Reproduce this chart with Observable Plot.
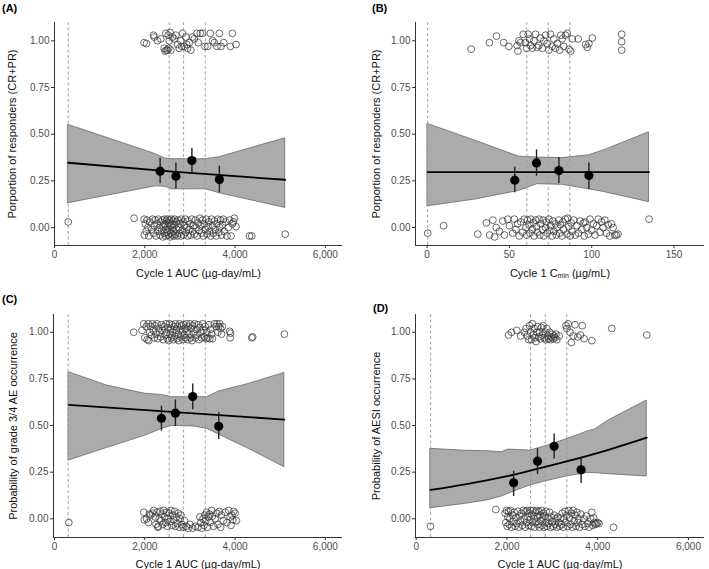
<!DOCTYPE html>
<html>
<head>
<meta charset="utf-8">
<script src="https://cdn.jsdelivr.net/npm/d3@7"></script>
<script src="https://cdn.jsdelivr.net/npm/@observablehq/plot@0.6"></script>
<style>
  body { margin: 0; background: #fff; }
  #chart { position: relative; width: 709px; height: 569px; background: #fff; font-family: "Liberation Sans", Arial, sans-serif; }
  .panel { position: absolute; }
  .tag { position: absolute; font-weight: bold; font-size: 11px; color: #000; font-family: "Liberation Sans", Arial, sans-serif; }
</style>
</head>
<body>
<div id="chart"></div>
<script>
// ---------------- data ----------------
const yTicks = [0, 0.25, 0.5, 0.75, 1];
const aucTicks = [0, 2000, 4000, 6000];
const cminTicks = [0, 50, 100, 150];

// quartile cut lines
const cutsA = [304, 2540, 2860, 3340];
const cutsB = [0.4, 60.6, 73.6, 86.7];
const cutsC = [304, 2540, 2860, 3340];
const cutsD = [318, 2520, 2843, 3320];

// confidence ribbons
const ribA_x = [304, 2244, 2450, 2615, 3356, 3652, 5111];
const ribA_lo = [0.13, 0.221, 0.218, 0.205, 0.205, 0.184, 0.105];
const ribA_hi = [0.55, 0.393, 0.37, 0.366, 0.366, 0.377, 0.478];
const fitA_x = [304, 2615, 5111];
const fitA_y = [0.347, 0.299, 0.256];

const ribB_x = [0.4, 29.4, 55.8, 66.9, 82.1, 98.3, 107.5, 134.8];
const ribB_lo = [0.114, 0.15, 0.196, 0.232, 0.229, 0.205, 0.19, 0.136];
const ribB_hi = [0.555, 0.465, 0.38, 0.375, 0.372, 0.387, 0.414, 0.51];
const fitB_x = [0.4, 134.8];
const fitB_y = [0.297, 0.297];

const ribC_x = [317, 1166, 2015, 2384, 2605, 3085, 3380, 3638, 4303, 5092];
const ribC_lo = [0.3125, 0.38, 0.446, 0.482, 0.498, 0.495, 0.482, 0.452, 0.375, 0.277];
const ribC_hi = [0.786, 0.714, 0.67, 0.664, 0.652, 0.652, 0.652, 0.682, 0.723, 0.782];
const fitC_x = [317, 5092];
const fitC_y = [0.611, 0.532];

const ribD_x = [316, 1079, 1593, 1887, 2034, 2511, 2841, 3355, 3796, 3943, 4236, 5081];
const ribD_lo = [0.057, 0.08, 0.10, 0.12, 0.135, 0.179, 0.2, 0.229, 0.246, 0.245, 0.239, 0.227];
const ribD_hi = [0.375, 0.365, 0.362, 0.357, 0.371, 0.366, 0.388, 0.43, 0.47, 0.479, 0.527, 0.634];
const fitD_x = [316, 1079, 2034, 2511, 3355, 4236, 5081];
const fitD_y = [0.155, 0.185, 0.23, 0.258, 0.31, 0.37, 0.435];

// binned observed proportions with error bars
const binA_x = [2340, 2690, 3044, 3652];
const binA_y = [0.302, 0.275, 0.359, 0.257];
const binA_lo = [0.234, 0.207, 0.286, 0.186];
const binA_hi = [0.371, 0.346, 0.425, 0.329];

const binB_x = [53.3, 66.5, 80.1, 98.3];
const binB_y = [0.254, 0.346, 0.305, 0.279];
const binB_lo = [0.186, 0.275, 0.236, 0.204];
const binB_hi = [0.323, 0.416, 0.375, 0.346];

const binC_x = [2369, 2679, 3063, 3638];
const binC_y = [0.539, 0.566, 0.655, 0.496];
const binC_lo = [0.47, 0.495, 0.584, 0.425];
const binC_hi = [0.604, 0.637, 0.723, 0.568];

const binD_x = [2147, 2673, 3040, 3634];
const binD_y = [0.193, 0.309, 0.389, 0.2625];
const binD_lo = [0.12, 0.2375, 0.32, 0.19];
const binD_hi = [0.255, 0.375, 0.455, 0.33];

// individual (jittered) outcomes [exposure, outcome]
const ptsA = [
[1985,0.99],[2037,0.985],[2193,1.03],[2207,1.02],[2281,1.0],[2356,1.01],[2430,0.96],[2450,0.945],[2467,1.04],[2480,0.95],[2504,0.95],[2519,1.03],[2530,0.96],[2541,1.0],[2560,1.045],[2578,0.95],[2615,1.02],[2652,1.01],[2689,1.03],[2726,0.98],[2763,0.96],[2800,1.0],[2820,0.97],[2837,1.04],[2874,0.97],[2911,1.02],[2930,0.98],[2948,0.96],[2985,0.99],[3022,0.95],[3059,1.02],[3096,1.01],[3156,1.04],[3185,0.99],[3230,1.04],[3281,1.04],[3333,0.97],[3393,0.97],[3452,1.04],[3504,1.0],[3541,0.99],[3600,0.97],[3652,1.04],[3689,0.97],[3748,0.99],[3896,0.97],[3941,1.04],[4022,0.98],
[304,0.03],[1763,0.05],[1985,0.045],[1990,-0.04],[2010,0.02],[2030,-0.02],[2050,0.04],[2070,0.0],[2090,-0.045],[2110,0.03],[2150,-0.01],[2170,0.045],[2190,-0.03],[2210,0.01],[2230,0.04],[2250,-0.045],[2270,0.02],[2290,-0.02],[2300,0.045],[2320,0.0],[2340,-0.04],[2350,0.03],[2370,-0.015],[2390,0.04],[2400,-0.05],[2410,0.01],[2430,-0.03],[2440,0.045],[2450,0.02],[2460,-0.045],[2470,-0.01],[2480,0.035],[2490,-0.025],[2500,0.045],[2510,0.005],[2520,-0.04],[2530,0.025],[2540,-0.015],[2550,0.04],[2560,-0.05],[2570,0.01],[2580,-0.03],[2590,0.045],[2600,0.02],[2610,-0.04],[2620,0.0],[2630,0.035],[2640,-0.02],[2650,-0.045],[2660,0.045],[2670,0.015],[2680,-0.035],[2700,0.03],[2710,-0.01],[2720,-0.045],[2740,0.04],[2750,0.0],[2760,-0.03],[2780,0.02],[2800,-0.045],[2810,0.045],[2830,-0.015],[2850,0.03],[2860,-0.04],[2880,0.01],[2900,0.045],[2910,-0.025],[2930,0.0],[2950,-0.045],[2960,0.035],[2980,-0.01],[3000,0.02],[3020,-0.04],[3040,0.045],[3060,-0.02],[3080,0.01],[3100,-0.035],[3120,0.04],[3140,0.0],[3160,-0.045],[3180,0.025],[3200,-0.015],[3220,0.05],[3240,0.01],[3260,-0.03],[3280,0.04],[3300,-0.045],[3320,0.02],[3340,-0.01],[3360,0.045],[3380,-0.035],[3400,0.005],[3420,0.03],[3440,-0.02],[3460,-0.045],[3480,0.045],[3500,0.01],[3520,-0.03],[3540,0.035],[3560,-0.01],[3580,-0.045],[3600,0.02],[3620,0.045],[3640,-0.025],[3660,0.0],[3680,0.04],[3700,-0.04],[3720,0.015],[3740,0.045],[3760,-0.02],[3790,0.03],[3820,-0.045],[3850,0.0],[3880,0.04],[3911,-0.045],[3940,0.02],[3963,0.03],[3985,0.05],[4022,0.005],[4319,-0.045],[4370,-0.045],[5111,-0.035]
];

const ptsB = [
[26.8,0.955],[37.9,0.99],[42.2,1.025],[46.6,0.99],[49.7,0.97],[54.7,0.975],[55.2,0.945],[55.8,1.0],[56.8,0.99],[58.4,1.035],[59.8,0.99],[60.5,0.96],[61.4,1.035],[62.2,1.01],[62.9,0.975],[63.9,0.96],[64.9,1.0],[65.9,1.035],[66.9,0.965],[67.9,0.975],[68.9,1.015],[70,0.96],[71,1.0],[72,1.03],[73,0.985],[74,0.95],[75,1.035],[76,0.97],[77,1.01],[78,0.96],[79.1,0.985],[80.5,0.95],[81.3,1.03],[82.1,1.01],[83,0.97],[84.1,1.03],[85.2,1.04],[86.2,0.955],[87.2,0.945],[88.2,1.01],[91.8,1.01],[96.3,0.98],[97.3,0.965],[98.3,0.985],[100.4,1.015],[118.2,1.035],[118.2,0.995],[118.2,0.95],
[0.4,-0.03],[10.1,0.01],[30.8,-0.035],[36,0.025],[38,-0.04],[40,0.04],[41,-0.05],[42,0.0],[44,-0.02],[46,0.035],[47,-0.04],[49,0.045],[50,0.01],[52,-0.03],[53,0.045],[54,-0.01],[55,0.02],[56,-0.045],[57,0.03],[58,-0.025],[59,0.045],[60,0.0],[60.5,-0.04],[61,0.04],[62,0.015],[62.5,-0.03],[63,0.045],[64,-0.01],[64.5,0.025],[65,-0.045],[66,0.04],[66.5,0.005],[67,-0.025],[68,0.045],[68.5,-0.04],[69,0.02],[70,-0.01],[70.5,0.04],[71,-0.045],[72,0.0],[72.5,0.03],[73,-0.03],[74,0.045],[74.5,-0.015],[75,0.01],[76,-0.045],[76.5,0.035],[77,-0.02],[78,0.02],[78.5,-0.04],[79,0.0],[80,0.04],[80.5,-0.03],[81,0.015],[82,-0.045],[82.5,0.03],[83,-0.01],[84,0.045],[85,-0.035],[85.5,0.05],[86,0.005],[87,-0.045],[87.5,0.025],[88,-0.02],[89,0.04],[90,-0.04],[91,0.01],[92,-0.03],[93,0.035],[94,-0.01],[95,0.025],[95.5,-0.045],[96,0.03],[97,0.0],[98,-0.035],[99,0.045],[100,-0.015],[101,0.02],[102,-0.04],[103,0.01],[104,0.045],[105,-0.025],[106,0.03],[107,0.0],[108,0.04],[109,-0.03],[110,0.015],[111,-0.045],[112,0.02],[113,0.0],[114,-0.04],[115,-0.04],[116,-0.035],[134.8,0.045]
];

const ptsC = [
[1756,1.0],[1940,1.01],[1978,1.045],[2000,0.97],[2030,1.03],[2052,0.96],[2075,1.045],[2089,0.955],[2110,1.0],[2130,1.03],[2150,0.985],[2170,1.045],[2190,1.01],[2210,0.97],[2230,1.035],[2250,0.99],[2270,1.045],[2290,0.965],[2310,1.02],[2330,1.0],[2350,0.975],[2370,1.04],[2390,1.01],[2410,0.96],[2430,1.03],[2450,0.985],[2470,1.045],[2490,1.0],[2500,0.965],[2515,1.025],[2530,0.955],[2545,1.045],[2560,0.99],[2575,1.015],[2590,0.97],[2605,1.04],[2620,1.0],[2635,0.96],[2650,1.03],[2665,0.98],[2680,1.045],[2695,1.01],[2710,0.965],[2725,1.03],[2740,0.99],[2755,0.955],[2770,1.045],[2785,1.015],[2800,0.975],[2815,1.035],[2830,1.0],[2845,0.96],[2860,1.04],[2875,0.985],[2890,1.02],[2905,0.97],[2920,1.045],[2935,1.005],[2950,0.96],[2965,1.03],[2980,0.99],[3000,1.045],[3015,0.97],[3030,1.02],[3045,0.955],[3060,1.035],[3080,0.995],[3100,1.045],[3120,0.97],[3140,1.015],[3160,0.985],[3180,1.04],[3200,0.96],[3220,1.025],[3240,1.0],[3260,0.97],[3280,1.045],[3300,1.01],[3320,0.975],[3340,1.03],[3360,0.965],[3380,1.0],[3400,0.97],[3420,1.04],[3440,0.965],[3460,1.015],[3480,0.99],[3500,0.965],[3540,1.045],[3580,1.03],[3600,1.045],[3620,1.0],[3640,1.03],[3660,1.045],[3680,1.02],[3700,0.99],[3720,1.03],[3880,1.005],[3890,0.97],[3900,0.995],[4370,0.97],[4390,0.975],[5092,0.99],
[317,-0.02],[1978,0.035],[1990,-0.005],[2040,0.0],[2080,-0.02],[2100,0.025],[2130,0.02],[2170,0.03],[2200,0.045],[2230,0.01],[2250,-0.03],[2270,0.035],[2290,-0.045],[2300,-0.04],[2320,0.0],[2340,0.04],[2360,-0.01],[2380,0.025],[2400,-0.03],[2420,0.045],[2440,0.01],[2460,-0.02],[2480,0.035],[2500,-0.04],[2520,0.0],[2540,0.03],[2560,-0.015],[2580,0.045],[2600,-0.035],[2620,0.02],[2640,-0.005],[2660,0.04],[2680,-0.04],[2700,0.01],[2720,-0.025],[2740,0.03],[2760,-0.045],[2780,0.0],[2800,0.02],[2820,-0.03],[2850,-0.045],[2880,-0.01],[2920,-0.04],[2960,-0.05],[3000,-0.03],[3060,-0.05],[3120,-0.04],[3180,-0.045],[3220,0.01],[3240,-0.02],[3260,-0.05],[3290,0.0],[3310,-0.035],[3330,0.02],[3350,-0.01],[3370,0.035],[3390,-0.045],[3410,0.01],[3430,0.025],[3450,-0.02],[3480,0.045],[3500,0.015],[3520,-0.04],[3560,0.0],[3590,0.03],[3620,-0.03],[3650,0.04],[3680,-0.045],[3700,0.02],[3740,-0.01],[3780,0.035],[3820,-0.02],[3860,0.045],[3890,0.01],[3910,-0.035],[3930,0.02],[3950,-0.005],[3970,0.04],[4000,0.03],[4030,-0.01]
];

const ptsD = [
[2034,0.985],[2100,1.0],[2217,1.01],[2300,0.98],[2380,1.0],[2420,1.02],[2450,0.98],[2480,0.96],[2500,1.035],[2520,1.0],[2540,0.96],[2560,1.045],[2580,0.985],[2600,1.02],[2620,0.97],[2640,0.95],[2660,1.0],[2680,1.03],[2700,0.975],[2720,1.0],[2740,0.965],[2760,1.025],[2780,0.985],[2800,1.035],[2820,0.97],[2840,1.0],[2860,0.96],[2880,1.02],[2900,0.98],[2920,0.965],[2940,1.0],[2960,0.96],[2980,0.975],[3000,0.99],[3020,0.965],[3040,0.98],[3060,0.97],[3080,0.99],[3100,0.96],[3150,0.98],[3300,1.035],[3320,1.02],[3350,1.045],[3390,1.0],[3420,0.945],[3460,0.98],[3500,1.04],[3560,0.975],[3620,0.985],[3660,1.035],[3700,0.965],[3870,0.955],[4310,1.02],[5081,0.985],
[316,-0.04],[1755,0.05],[1960,0.03],[1975,-0.02],[1990,0.045],[2005,-0.04],[2020,0.01],[2035,0.04],[2050,-0.03],[2065,0.0],[2080,0.045],[2100,-0.045],[2120,0.02],[2140,-0.015],[2160,0.035],[2180,-0.04],[2200,0.005],[2220,-0.025],[2240,0.04],[2260,-0.045],[2280,0.015],[2300,-0.01],[2320,0.03],[2340,-0.035],[2360,0.045],[2380,0.0],[2400,-0.045],[2415,0.04],[2430,-0.02],[2445,0.045],[2460,0.01],[2475,-0.035],[2490,0.03],[2505,-0.005],[2520,0.045],[2535,-0.04],[2550,0.02],[2565,-0.02],[2580,0.045],[2595,0.0],[2610,-0.045],[2625,0.035],[2640,-0.015],[2655,0.045],[2670,0.01],[2685,-0.03],[2700,0.04],[2715,-0.045],[2730,0.02],[2745,-0.01],[2760,0.045],[2775,-0.035],[2790,0.005],[2805,0.03],[2820,-0.045],[2835,0.015],[2850,-0.02],[2865,0.04],[2880,-0.04],[2900,0.0],[2920,-0.025],[2940,0.035],[2960,-0.045],[2980,0.01],[3000,-0.015],[3020,-0.04],[3040,0.02],[3060,-0.03],[3080,0.0],[3100,-0.045],[3120,0.01],[3140,-0.02],[3160,-0.04],[3180,0.005],[3200,-0.03],[3220,0.03],[3240,-0.045],[3260,0.0],[3280,0.04],[3300,-0.02],[3320,0.02],[3340,-0.04],[3360,0.045],[3380,0.005],[3400,-0.03],[3420,0.03],[3440,-0.045],[3460,0.045],[3480,-0.01],[3500,0.02],[3520,-0.04],[3540,0.035],[3560,-0.02],[3580,0.0],[3600,-0.045],[3630,0.025],[3660,-0.03],[3690,0.0],[3720,-0.04],[3750,0.015],[3780,-0.025],[3810,-0.045],[3840,0.0],[3870,0.035],[3890,-0.035],[3910,0.005],[3930,-0.02],[3950,-0.03],[3970,-0.025],[4000,-0.02],[4030,-0.025],[4347,-0.045]
];

const labels = {
  xA: "Cycle 1 AUC (µg-day/mL)",
  xB: "Cycle 1 Cmin (µg/mL)",
  xC: "Cycle 1 AUC (µg-day/mL)",
  xD: "Cycle 1 AUC (µg·day/mL)",
  yA: "Porportion of responders (CR+PR)",
  yB: "Porportion of responders (CR+PR)",
  yC: "Probability of grade 3/4 AE occurrence",
  yD: "Probability of AESI occurrence"
};

// ---------------- drawing ----------------
const zip3 = (x, a, b) => x.map((v, i) => ({x: v, lo: a[i], hi: b[i]}));
const zip2 = (x, y) => x.map((v, i) => ({x: v, y: y[i]}));
const zipBins = (x, y, lo, hi) => x.map((v, i) => ({x: v, y: y[i], lo: lo[i], hi: hi[i]}));

function panel(cfg) {
  const plot = Plot.plot({
    width: cfg.width, height: cfg.height,
    marginLeft: cfg.ml, marginRight: cfg.mr, marginTop: cfg.mt, marginBottom: cfg.mb,
    style: {fontFamily: '"Liberation Sans", Arial, sans-serif', fontSize: "10px", color: "#333", background: "white"},
    x: {domain: cfg.xDomain},
    y: {domain: cfg.yDomain},
    marks: [
      Plot.areaY(zip3(cfg.rib[0], cfg.rib[1], cfg.rib[2]), {x: "x", y1: "lo", y2: "hi", fill: "#ababab", stroke: "#5a5a5a", strokeWidth: 0.7}),
      Plot.ruleX(cfg.cuts, {stroke: "#999", strokeWidth: 0.9, strokeDasharray: "3,2.5"}),
      Plot.dot(cfg.pts, {x: d => d[0], y: d => d[1], r: 3.4, stroke: "#3a3a3a", strokeWidth: 0.75, fill: "none"}),
      Plot.line(zip2(cfg.fit[0], cfg.fit[1]), {x: "x", y: "y", stroke: "#000", strokeWidth: 1.8, curve: "monotone-x"}),
      Plot.ruleX(zipBins(...cfg.bins), {x: "x", y1: "lo", y2: "hi", stroke: "#222", strokeWidth: 1.4}),
      Plot.dot(zipBins(...cfg.bins), {x: "x", y: "y", r: 4.6, fill: "#000", stroke: "none"}),
      Plot.ruleY([cfg.yDomain[0]], {stroke: "#333", strokeWidth: 1}),
      Plot.ruleX([cfg.xDomain[0]], {stroke: "#333", strokeWidth: 1}),
      Plot.axisX({ticks: cfg.xTicks, tickFormat: d3.format(","), tickSize: 3, tickPadding: 2,
        label: cfg.xLabel, labelAnchor: "center", labelArrow: "none", labelOffset: cfg.xlo}),
      Plot.axisY({ticks: yTicks, tickFormat: d3.format(".2f"), tickSize: 3, tickPadding: 2,
        label: cfg.yLabel, labelAnchor: "center", labelArrow: "none", labelOffset: cfg.ylo})
    ]
  });
  plot.classList.add("panel");
  plot.style.left = cfg.left + "px";
  plot.style.top = cfg.top + "px";
  // styling: tick labels gray, axis titles black, larger
  plot.querySelectorAll('g[aria-label="x-axis tick label"] text, g[aria-label="y-axis tick label"] text')
    .forEach(t => t.setAttribute("fill", "#4d4d4d"));
  plot.querySelectorAll('g[aria-label="x-axis label"], g[aria-label="y-axis label"]').forEach(g => {
    g.setAttribute("fill", "#111");
    g.setAttribute("font-size", "11");
  });
  if (cfg.sub) {
    const t = plot.querySelector('g[aria-label="x-axis label"] text');
    if (t) {
      t.textContent = "";
      const ns = "http://www.w3.org/2000/svg";
      const a = document.createElementNS(ns, "tspan"); a.textContent = "Cycle 1 C";
      const b = document.createElementNS(ns, "tspan"); b.textContent = "min"; b.setAttribute("font-size", "7"); b.setAttribute("dy", "1.5");
      const c = document.createElementNS(ns, "tspan"); c.textContent = " (µg/mL)"; c.setAttribute("dy", "-1.5");
      t.append(a, b, c);
    }
  }
  return plot;
}

const chart = document.getElementById("chart");
const yTop = [-0.096, 1.098];
const yBot = [-0.100, 1.095];

chart.append(panel({left: 0, top: 0, width: 354, height: 285, ml: 54, mr: 12, mt: 22, mb: 40,
  xDomain: [0, 6380], yDomain: yTop, xTicks: aucTicks, xLabel: labels.xA, yLabel: labels.yA, xlo: 31, ylo: 46,
  rib: [ribA_x, ribA_lo, ribA_hi], fit: [fitA_x, fitA_y], bins: [binA_x, binA_y, binA_lo, binA_hi], cuts: cutsA, pts: ptsA}));
chart.append(panel({left: 355, top: 0, width: 354, height: 285, ml: 60, mr: 5, mt: 22, mb: 40,
  xDomain: [-7, 168.5], yDomain: yTop, xTicks: cminTicks, xLabel: labels.xB, yLabel: labels.yB, xlo: 31, ylo: 43, sub: true,
  rib: [ribB_x, ribB_lo, ribB_hi], fit: [fitB_x, fitB_y], bins: [binB_x, binB_y, binB_lo, binB_hi], cuts: cutsB, pts: ptsB}));
chart.append(panel({left: 0, top: 285, width: 354, height: 284, ml: 53, mr: 12, mt: 29, mb: 32,
  xDomain: [-22, 6380], yDomain: yBot, xTicks: aucTicks, xLabel: labels.xC, yLabel: labels.yC, xlo: 30, ylo: 44,
  rib: [ribC_x, ribC_lo, ribC_hi], fit: [fitC_x, fitC_y], bins: [binC_x, binC_y, binC_lo, binC_hi], cuts: cutsC, pts: ptsC}));
chart.append(panel({left: 355, top: 285, width: 354, height: 284, ml: 60, mr: 5, mt: 29, mb: 32,
  xDomain: [-15, 6353], yDomain: yBot, xTicks: aucTicks, xLabel: labels.xD, yLabel: labels.yD, xlo: 30, ylo: 43,
  rib: [ribD_x, ribD_lo, ribD_hi], fit: [fitD_x, fitD_y], bins: [binD_x, binD_y, binD_lo, binD_hi], cuts: cutsD, pts: ptsD}));

[["(A)", 2, 2], ["(B)", 372, 2], ["(C)", 2, 293], ["(D)", 373, 302]].forEach(([s, x, y]) => {
  const d = document.createElement("div");
  d.className = "tag"; d.textContent = s;
  d.style.left = x + "px"; d.style.top = y + "px";
  chart.append(d);
});
</script>
</body>
</html>
